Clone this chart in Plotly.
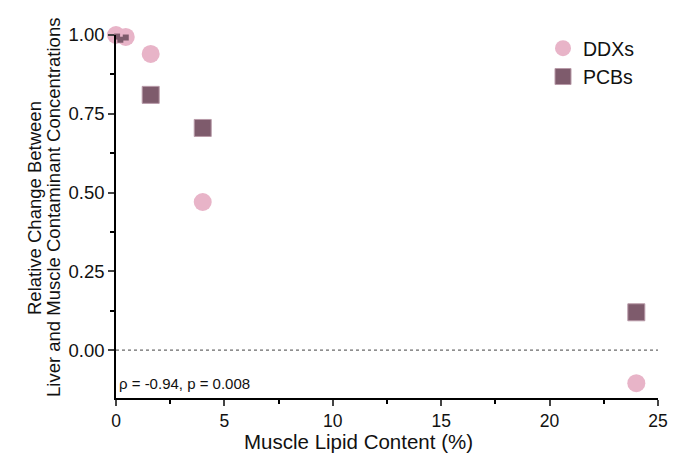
import plotly.graph_objects as go

ddx_x = [0.0, 0.45, 1.6, 4.0, 24.0]
ddx_y = [1.0, 0.994, 0.94, 0.47, -0.105]
pcb_x = [0.05, 0.2, 0.45, 1.6, 4.0, 24.0]
pcb_y = [0.995, 0.985, 0.992, 0.81, 0.705, 0.12]
x_ticks = [0, 5, 10, 15, 20, 25]
y_ticks = [0.0, 0.25, 0.5, 0.75, 1.0]
y_tick_labels = ["0.00", "0.25", "0.50", "0.75", "1.00"]
x_title = "Muscle Lipid Content (%)"
y_title_lines = ["Relative Change Between", "Liver and Muscle Contaminant Concentrations"]
annotation_text = "ρ = -0.94, p = 0.008"

font_family = "Liberation Sans, Arial, sans-serif"
DDX_COLOR = "#E8B4C8"
PCB_COLOR = "#7E5B6C"

W, H = 673, 453
PL, PR, PT, PB = 116, 658, 35, 398  # plot area in screen pixels
L, T = PL, PT
R = W - PR
B = H - PB
pw, ph = PR - PL, PB - PT

def px_x(p):
    return (p - PL) / pw

def px_y(p):
    return (PB - p) / ph

fig = go.Figure()
fig.add_trace(go.Scatter(
    x=ddx_x, y=ddx_y, mode="markers", name="DDXs", legendgroup="ddx",
    marker=dict(symbol="circle", size=18, color=DDX_COLOR, line=dict(width=0)),
    cliponaxis=False,
))
# small overlapping PCB points near zero lipid content
fig.add_trace(go.Scatter(
    x=pcb_x[:3], y=pcb_y[:3], mode="markers", name="PCBs", legendgroup="pcb",
    showlegend=False,
    marker=dict(symbol="square", size=6, color=PCB_COLOR, line=dict(width=0)),
    cliponaxis=False,
))
fig.add_trace(go.Scatter(
    x=pcb_x[3:], y=pcb_y[3:], mode="markers", name="PCBs", legendgroup="pcb",
    marker=dict(symbol="square", size=17, color=PCB_COLOR,
                line=dict(width=1, color="#B89AA8")),
    cliponaxis=False,
))

fig.add_shape(type="line", x0=0, x1=25, y0=0, y1=0, xref="x", yref="y",
              line=dict(color="#444444", width=1, dash="dot"))

fig.add_annotation(x=0, y=-0.105, xref="x", yref="y", text=annotation_text,
                   showarrow=False, xanchor="left", yanchor="middle", xshift=1,
                   font=dict(size=15, color="#111111"))

fig.add_annotation(x=px_x(358), y=px_y(441), xref="paper", yref="paper", text=x_title,
                   showarrow=False, xanchor="center", yanchor="middle",
                   font=dict(size=20.5, color="#111111"))
fig.add_annotation(x=px_x(34), y=px_y(208), xref="paper", yref="paper", text=y_title_lines[0],
                   showarrow=False, xanchor="center", yanchor="middle", textangle=-90,
                   font=dict(size=18.5, color="#111111"))
fig.add_annotation(x=px_x(53), y=px_y(208), xref="paper", yref="paper", text=y_title_lines[1],
                   showarrow=False, xanchor="center", yanchor="middle", textangle=-90,
                   font=dict(size=18.5, color="#111111"))

fig.update_layout(
    width=W, height=H,
    paper_bgcolor="white", plot_bgcolor="white",
    margin=dict(l=L, r=R, t=T, b=B, pad=0, autoexpand=False),
    font=dict(family=font_family, color="#111111"),
    showlegend=True,
    legend=dict(x=px_x(543), y=px_y(29), xanchor="left", yanchor="top",
                font=dict(size=19.5), bgcolor="rgba(0,0,0,0)",
                itemsizing="trace", tracegroupgap=0),
    xaxis=dict(range=[0, 25], tickvals=x_ticks, ticks="outside", ticklen=6,
               tickwidth=1.5, linecolor="black", linewidth=1.5, showline=True,
               showgrid=False, zeroline=False, automargin=False,
               tickfont=dict(size=17.5),
               minor=dict(tickvals=[2.5, 7.5, 12.5, 17.5, 22.5], ticks="outside", ticklen=4,
                          tickwidth=1.5, tickcolor="black", showgrid=False)),
    yaxis=dict(range=[-0.152, 1.0], tickvals=y_ticks, ticktext=y_tick_labels,
               ticks="outside", ticklen=6, tickwidth=1.5,
               linecolor="black", linewidth=1.5, showline=True,
               showgrid=False, zeroline=False, automargin=False, tickfont=dict(size=18.5),
               minor=dict(tickvals=[0.125, 0.375, 0.625, 0.875], ticks="outside",
                          ticklen=4, tickwidth=1.5, tickcolor="black", showgrid=False)),
)

fig.write_html("out.html", config={"displayModeBar": False},
               post_script="document.body.style.margin='0';document.body.style.overflow='hidden';")
